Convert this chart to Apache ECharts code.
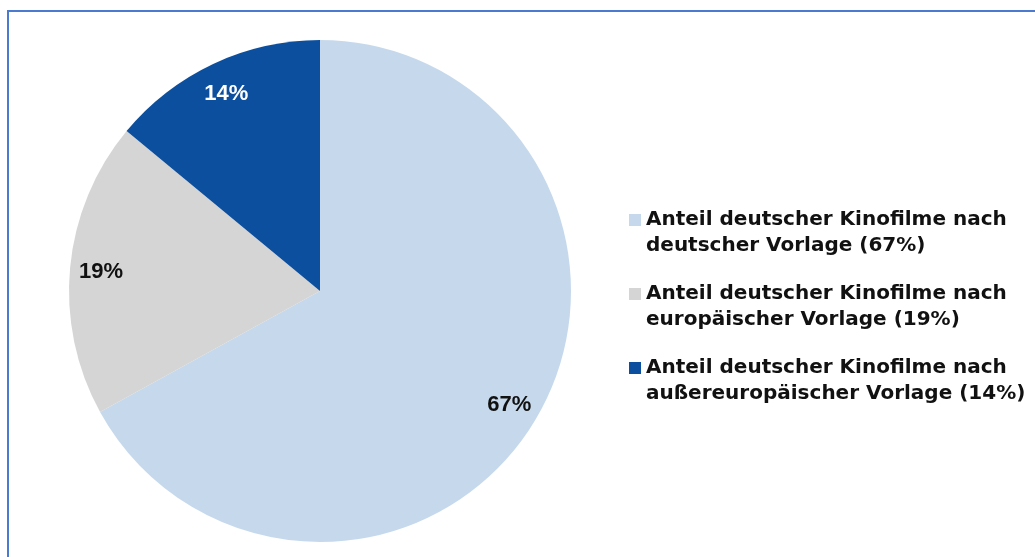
<!DOCTYPE html>
<html>
<head>
<meta charset="utf-8">
<script src="https://cdn.jsdelivr.net/npm/echarts@6/dist/echarts.min.js"></script>
<style>
  html, body { margin: 0; padding: 0; background: #ffffff; }
  #chart { width: 1035px; height: 557px; }
</style>
</head>
<body>
<div id="chart"></div>
<script>
// Herkunft der Vorlagen deutscher Kinofilme
const categories = [
  'Anteil deutscher Kinofilme nach deutscher Vorlage',
  'Anteil deutscher Kinofilme nach europäischer Vorlage',
  'Anteil deutscher Kinofilme nach außereuropäischer Vorlage'
];
const shares = [67, 19, 14];
const sliceColors = ['#c6d9ec', '#d5d5d5', '#0b4f9e'];
const labelColors = ['#111111', '#111111', '#ffffff'];

const pieData = categories.map((name, i) => ({
  name: name,
  value: shares[i],
  itemStyle: { color: sliceColors[i] }
}));

// Transparent ring on top of the pie that only carries the percentage labels,
// so they sit at the ring's mid radius.
const labelData = categories.map((name, i) => ({
  name: name,
  value: shares[i],
  label: { color: labelColors[i] }
}));

const chart = echarts.init(document.getElementById('chart'), null, { renderer: 'canvas' });

chart.setOption({
  backgroundColor: '#ffffff',
  animation: false,
  graphic: [{
    type: 'rect',
    shape: { x: 8, y: 11, width: 1100, height: 620 },
    style: { fill: 'none', stroke: '#4a7bd0', lineWidth: 2 },
    silent: true,
    z: 100
  }],
  legend: {
    orient: 'vertical',
    left: 629,
    top: 181,
    padding: 0,
    itemWidth: 12,
    itemHeight: 12,
    itemGap: -4,
    icon: 'rect',
    selectedMode: false,
    data: categories,
    // leading empty line keeps the first text line level with the square marker
    formatter: function (name) {
      const i = categories.indexOf(name);
      return '\n' + name.replace(' nach ', ' nach\n') + ' (' + shares[i] + '%)';
    },
    textStyle: {
      fontFamily: 'DejaVu Sans',
      fontWeight: 'bold',
      fontSize: 20,
      lineHeight: 26,
      color: '#111111'
    }
  },
  series: [
    {
      type: 'pie',
      center: [320, 291],
      radius: 251,
      startAngle: 90,
      clockwise: true,
      avoidLabelOverlap: false,
      silent: true,
      label: { show: false },
      labelLine: { show: false },
      emphasis: { disabled: true },
      itemStyle: { borderWidth: 0 },
      data: pieData
    },
    {
      type: 'pie',
      center: [320, 291],
      radius: [183, 251],
      startAngle: 90,
      clockwise: true,
      avoidLabelOverlap: false,
      silent: true,
      emphasis: { disabled: true },
      itemStyle: { color: 'rgba(0,0,0,0)', borderWidth: 0 },
      labelLine: { show: false },
      label: {
        show: true,
        position: 'inside',
        formatter: '{c}%',
        fontFamily: 'Liberation Sans',
        fontWeight: 'bold',
        fontSize: 22,
        offset: [0, 2]
      },
      data: labelData
    }
  ]
});
</script>
</body>
</html>
